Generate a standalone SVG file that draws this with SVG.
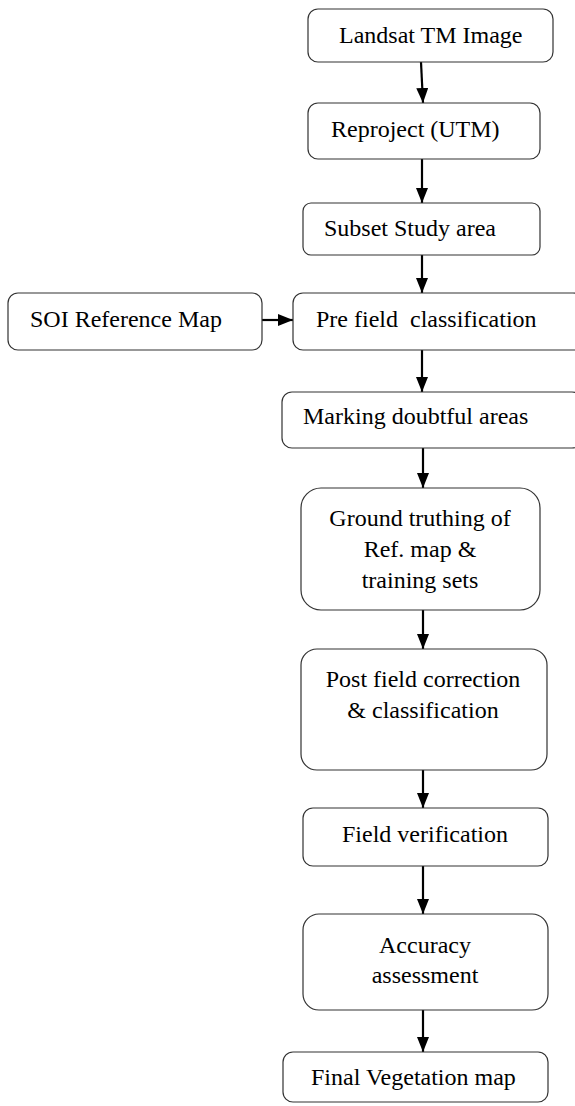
<svg xmlns="http://www.w3.org/2000/svg" width="575" height="1106" viewBox="0 0 575 1106">
<style>
.box{fill:#fff;stroke:#333;stroke-width:1.2}
text{font-family:'Liberation Serif','Times New Roman',Times,serif;font-size:24px;fill:#000}
.c{text-anchor:middle}
.a{stroke:#000;stroke-width:2.2;fill:none;marker-end:url(#ah)}
</style>
<defs>
<marker id="ah" viewBox="0 0 15 12" refX="15" refY="6" markerWidth="15" markerHeight="12" markerUnits="userSpaceOnUse" orient="auto">
<path d="M0,0 L15,6 L0,12 z" fill="#000"/>
</marker>
</defs>
<rect width="575" height="1106" fill="#fff"/>
<g id="connectors">
<line class="a" x1="421" y1="62" x2="423" y2="103"/>
<line class="a" x1="422" y1="159" x2="422" y2="203"/>
<line class="a" x1="422" y1="255" x2="422" y2="293"/>
<line class="a" x1="262" y1="320" x2="293" y2="320"/>
<line class="a" x1="422" y1="350" x2="422" y2="392"/>
<line class="a" x1="423" y1="448" x2="423" y2="488"/>
<line class="a" x1="423" y1="610" x2="423" y2="649"/>
<line class="a" x1="423" y1="770" x2="423" y2="808"/>
<line class="a" x1="423" y1="866" x2="423" y2="914"/>
<line class="a" x1="423" y1="1010" x2="423" y2="1052"/>
</g>
<g id="landsat"><rect class="box" x="308" y="9" width="245" height="53" rx="10"/><text x="339" y="43">Landsat TM Image</text></g>
<g id="reproject"><rect class="box" x="308" y="103" width="232" height="56" rx="10"/><text x="331" y="137">Reproject (UTM)</text></g>
<g id="subset"><rect class="box" x="303" y="203" width="237" height="52" rx="8"/><text x="324" y="236">Subset Study area</text></g>
<g id="soi"><rect class="box" x="8" y="293" width="254" height="57" rx="10"/><text x="30" y="327">SOI Reference Map</text></g>
<g id="prefield"><rect class="box" x="293" y="293" width="290" height="57" rx="10"/><text x="316" y="327" xml:space="preserve">Pre field  classification</text></g>
<g id="marking"><rect class="box" x="282" y="392" width="300" height="56" rx="10"/><text x="303" y="424">Marking doubtful areas</text></g>
<g id="ground"><rect class="box" x="301" y="488" width="239" height="122" rx="20"/><text class="c" x="420" y="526">Ground truthing of</text><text class="c" x="420" y="557">Ref. map &amp;</text><text class="c" x="420" y="588">training sets</text></g>
<g id="postfield"><rect class="box" x="301" y="649" width="246" height="121" rx="16"/><text class="c" x="423" y="687">Post field correction</text><text class="c" x="423" y="718">&amp; classification</text></g>
<g id="fieldver"><rect class="box" x="303" y="808" width="245" height="58" rx="10"/><text class="c" x="425" y="842">Field verification</text></g>
<g id="accuracy"><rect class="box" x="303" y="914" width="245" height="96" rx="16"/><text class="c" x="425" y="953">Accuracy</text><text class="c" x="425" y="983">assessment</text></g>
<g id="final"><rect class="box" x="283" y="1052" width="265" height="50" rx="10"/><text x="311" y="1085">Final Vegetation map</text></g>
</svg>
